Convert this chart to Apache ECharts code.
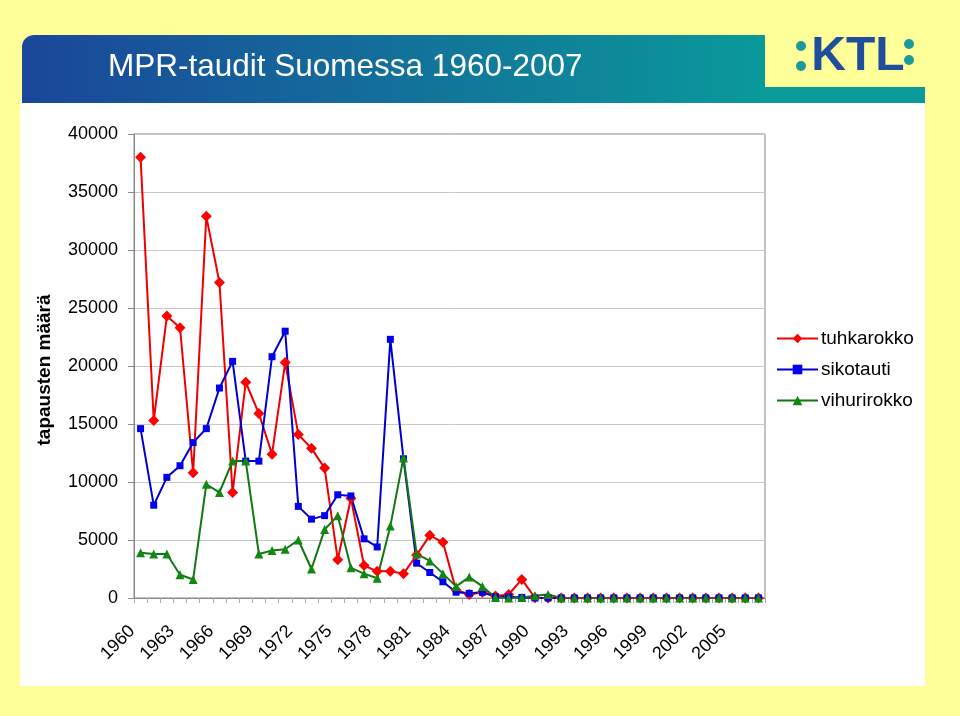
<!DOCTYPE html>
<html>
<head>
<meta charset="utf-8">
<script src="https://cdn.jsdelivr.net/npm/echarts@6/dist/echarts.min.js"></script>
<style>
html,body{margin:0;padding:0;background:#FFFF99;}
#chart{width:960px;height:716px;}
</style>
</head>
<body>
<div id="chart"></div>
<script>
const years = [];
for (let y = 1960; y <= 2007; y++) years.push(String(y));

const tuhkarokko = [38000,15300,24300,23300,10800,32900,27200,9100,18600,15900,
  12400,20300,14100,12900,11200,3300,8600,2800,2300,2300,
  2100,3700,5400,4800,700,300,500,170,300,1600,
  20,10,5,5,5,5,5,5,5,5,5,5,5,5,5,5,5,5];
const sikotauti = [14600,8000,10400,11400,13400,14600,18100,20400,11800,11800,
  20800,23000,7900,6800,7100,8900,8800,5100,4400,22300,
  12000,3000,2200,1400,500,400,500,100,100,50,
  0,0,5,5,5,5,5,5,5,5,5,5,5,5,5,5,5,5];
const vihurirokko = [3900,3800,3800,2000,1600,9800,9100,11800,11800,3800,
  4100,4200,5000,2500,5900,7100,2600,2100,1700,6200,
  12100,3800,3200,2100,1000,1800,1000,50,0,50,
  200,300,5,5,5,5,5,5,5,5,5,5,5,5,5,5,5,5];
const yTicks = [0,5000,10000,15000,20000,25000,30000,35000,40000];

const FONT = '"Liberation Sans", Arial, sans-serif';
const chart = echarts.init(document.getElementById('chart'));

chart.setOption({
  backgroundColor: '#FFFF99',
  animation: false,
  textStyle: { fontFamily: FONT },
  graphic: [
    { type: 'rect', shape: { x: 20, y: 100, width: 905, height: 586 }, style: { fill: '#ffffff' }, z: -10 },
    { type: 'rect', shape: { x: 765, y: 20, width: 175, height: 67 }, style: { fill: '#FFFF99' }, z: 50 },
    { type: 'rect', shape: { x: 22, y: 35, width: 743, height: 68, r: [12, 0, 0, 0] },
      style: { fill: new echarts.graphic.LinearGradient(0, 0, 1, 0, [
        { offset: 0, color: '#1b469a' }, { offset: 1, color: '#0a9a9a' }]) }, z: -5 },
    { type: 'rect', shape: { x: 760, y: 87, width: 165, height: 16 },
      style: { fill: '#0a9a9a' }, z: -5 },
    { type: 'text', x: 108, y: 67,
      style: { text: 'MPR-taudit Suomessa 1960-2007', fill: '#ffffff', font: '31.5px ' + FONT, verticalAlign: 'middle' } },
    { type: 'circle', shape: { cx: 801, cy: 46, r: 5 }, style: { fill: '#1a9a9a' }, z: 60 },
    { type: 'circle', shape: { cx: 801, cy: 66, r: 5 }, style: { fill: '#1a9a9a' }, z: 60 },
    { type: 'circle', shape: { cx: 909, cy: 44, r: 5 }, style: { fill: '#1a9a9a' }, z: 60 },
    { type: 'circle', shape: { cx: 909, cy: 60, r: 5 }, style: { fill: '#1a9a9a' }, z: 60 },
    { type: 'text', x: 858, y: 57, z: 60,
      style: { text: 'KTL', fill: '#1f4e9c', font: 'bold 48px ' + FONT, align: 'center', verticalAlign: 'middle' } }
  ],
  grid: { left: 134, right: 195, top: 134, bottom: 118, show: true, borderColor: '#888888', borderWidth: 1 },
  legend: {
    orient: 'vertical', left: 771, top: 324, itemWidth: 41, itemHeight: 12, itemGap: 12,
    textStyle: { fontSize: 19, color: '#000', fontFamily: FONT, padding: [0, 0, 0, -2] },
    data: ['tuhkarokko', 'sikotauti', 'vihurirokko']
  },
  xAxis: {
    type: 'category', data: years, boundaryGap: true,
    axisLine: { lineStyle: { color: '#888888' } },
    axisTick: { show: true, interval: 0, length: 5, lineStyle: { color: '#aaaaaa' } },
    axisLabel: { interval: 2, rotate: 45, fontSize: 18, color: '#000', margin: 22, padding: [0, 12, 0, 0], fontFamily: FONT },
    splitLine: { show: false }
  },
  yAxis: {
    type: 'value', min: 0, max: 40000, interval: 5000,
    name: 'tapausten määrä', nameLocation: 'middle', nameGap: 80, nameRotate: 90,
    nameTextStyle: { fontSize: 19, fontWeight: 'bold', color: '#000', fontFamily: FONT, padding: [0, 8, 0, 0] },
    axisLine: { show: true, lineStyle: { color: '#888888' } },
    axisTick: { show: true, length: 6, lineStyle: { color: '#888888' } },
    axisLabel: { fontSize: 18, color: '#000', margin: 16, fontFamily: FONT,
      formatter: v => yTicks.includes(v) ? String(v) : '' },
    splitLine: { lineStyle: { color: '#c8c8c8' } }
  },
  series: [
    { name: 'tuhkarokko', type: 'line', data: tuhkarokko, symbol: 'diamond', symbolSize: 11, showAllSymbol: true,
      lineStyle: { color: '#ee0000', width: 2 }, itemStyle: { color: '#ff0000' } },
    { name: 'sikotauti', type: 'line', data: sikotauti, symbol: 'rect', symbolSize: 7, showAllSymbol: true,
      lineStyle: { color: '#0000cc', width: 2 }, itemStyle: { color: '#0000ee' } },
    { name: 'vihurirokko', type: 'line', data: vihurirokko, symbol: 'triangle', symbolSize: 9, showAllSymbol: true,
      lineStyle: { color: '#117711', width: 2 }, itemStyle: { color: '#118811' } }
  ]
});
</script>
</body>
</html>
